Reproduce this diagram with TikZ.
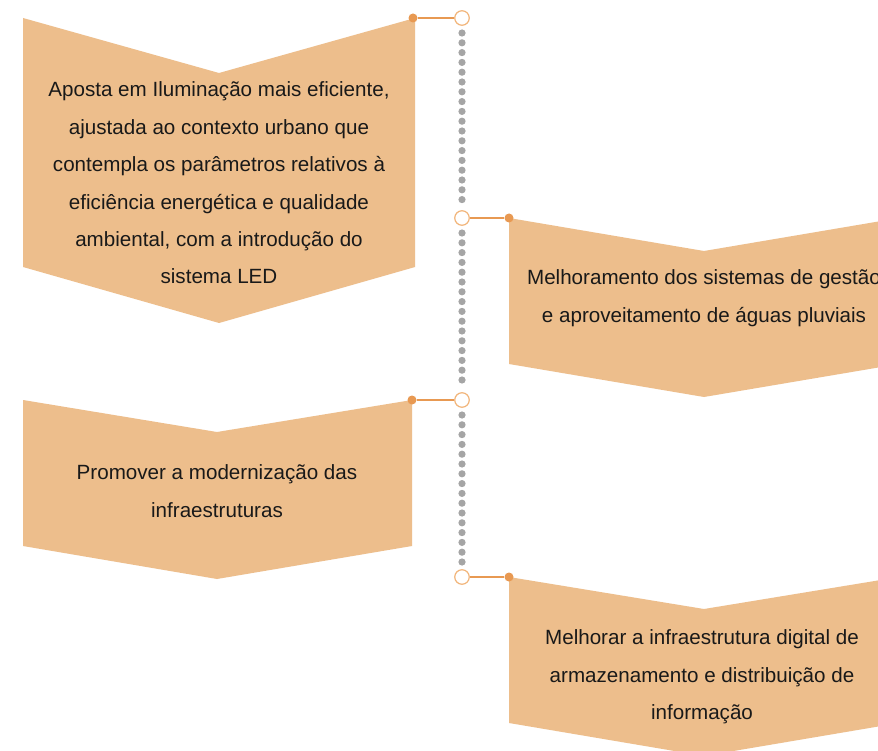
\documentclass[tikz,border=0pt]{standalone}
\usepackage{fontspec}
\setmainfont{Liberation Sans}
\usetikzlibrary{positioning}
\definecolor{peach}{RGB}{237,190,140}
\definecolor{ink}{RGB}{25,25,25}
\definecolor{accent}{RGB}{232,153,82}
\definecolor{ringc}{RGB}{242,182,124}
\definecolor{dotgray}{RGB}{165,165,165}

\begin{document}
\begin{tikzpicture}[
    x=1pt,y=-1pt,
    text=ink,
    every node/.style={font=\fontsize{20.6}{37.4}\selectfont},
    chev/.style={fill=peach},
    txt/.style={align=center, inner sep=0pt},
    dot/.style={circle, fill=accent, minimum size=9pt, inner sep=0pt},
    ring/.style={circle, draw=ringc, fill=white, line width=1.2pt, minimum size=14.5pt, inner sep=0pt},
    link/.style={draw=accent, line width=1.3pt},
    trail/.style={draw=dotgray, line width=7.2pt, line cap=round, dash pattern=on 0pt off 9.8pt}
]

% Canvas
\clip (0,0) rectangle (878,751);
\fill[white] (0,0) rectangle (878,751);

% Chevrons
\fill[chev] (23,18) -- (219,73) -- (415,18) -- (415,267) -- (219,323) -- (23,267) -- cycle;
\fill[chev] (509,218) -- (704,251) -- (899,218) -- (899,364) -- (704,397) -- (509,364) -- cycle;
\fill[chev] (23,400) -- (217,432) -- (412,400) -- (412,546) -- (217,579) -- (23,546) -- cycle;
\fill[chev] (509,577) -- (704,609) -- (899,577) -- (899,723) -- (704,756) -- (509,723) -- cycle;

% Texts
\node[txt] (t1) at (219,183) {Aposta em Iluminação mais eficiente,\\ ajustada ao contexto urbano que\\ contempla os parâmetros relativos à\\ eficiência energética e qualidade\\ ambiental, com a introdução do\\ sistema LED};
\node[txt] (t2) at (704,298) {Melhoramento dos sistemas de gestão\\ e aproveitamento de águas pluviais};
\node[txt] (t3) at (217,491) {Promover a modernização das\\ infraestruturas};
\node[txt] (t4) at (702,677) {Melhorar a infraestrutura digital de\\ armazenamento e distribuição de\\ informação};

% Timeline points
\coordinate (p1) at (462,18);
\coordinate (p2) at (462,218);
\coordinate (p3) at (462,400);
\coordinate (p4) at (462,577);

% Dotted trail between rings
\draw[trail] ([yshift=-15pt]p1) -- ([yshift=13pt]p2);
\draw[trail] ([yshift=-15pt]p2) -- ([yshift=13pt]p3);
\draw[trail] ([yshift=-15pt]p3) -- ([yshift=13pt]p4);

% Timeline rings
\node[ring] (r1) at (p1) {};
\node[ring] (r2) at (p2) {};
\node[ring] (r3) at (p3) {};
\node[ring] (r4) at (p4) {};

% Corner dots
\node[dot] (d1) at (413,18) {};
\node[dot] (d2) at (509,218) {};
\node[dot] (d3) at (412,400) {};
\node[dot] (d4) at (509,577) {};

% Links
\draw[link] (d1) -- (r1);
\draw[link] (d2) -- (r2);
\draw[link] (d3) -- (r3);
\draw[link] (d4) -- (r4);

\end{tikzpicture}
\end{document}
